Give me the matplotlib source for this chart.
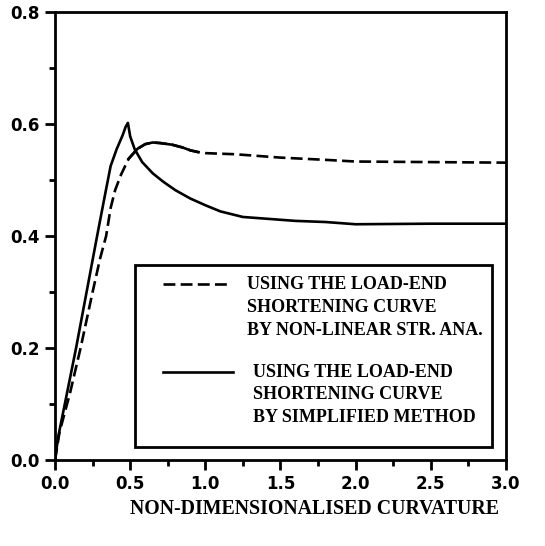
import numpy as np
import matplotlib.pyplot as plt
from matplotlib.patches import Rectangle

# curvature vs. moment
x_simpl = [0.0, 0.02, 0.08, 0.14, 0.21, 0.28, 0.33, 0.37, 0.41, 0.45, 0.47, 0.485,
           0.50, 0.53, 0.58, 0.65, 0.72, 0.80, 0.90, 1.00, 1.10, 1.25, 1.45, 1.60,
           1.80, 1.95, 2.00, 2.50, 3.00]
y_simpl = [0.0, 0.04, 0.12, 0.20, 0.30, 0.40, 0.47, 0.525, 0.555, 0.58, 0.595, 0.602,
           0.578, 0.555, 0.532, 0.512, 0.497, 0.482, 0.467, 0.455, 0.444, 0.434, 0.430, 0.427,
           0.425, 0.422, 0.421, 0.422, 0.422]

x_nonlin = [0.0, 0.03, 0.10, 0.17, 0.25, 0.30, 0.34, 0.37, 0.40, 0.44, 0.49, 0.55,
            0.60, 0.65, 0.70, 0.78, 0.85, 0.90, 0.95, 1.00, 1.20, 1.50, 1.80, 2.00,
            2.50, 3.00]
y_nonlin = [0.0, 0.05, 0.12, 0.20, 0.30, 0.36, 0.40, 0.45, 0.482, 0.51, 0.538, 0.556,
            0.564, 0.567, 0.566, 0.563, 0.558, 0.553, 0.550, 0.548, 0.546, 0.540, 0.536, 0.533,
            0.532, 0.531]

label_nonlin = "USING THE LOAD-END\nSHORTENING CURVE\nBY NON-LINEAR STR. ANA."
label_simpl = "USING THE LOAD-END\nSHORTENING CURVE\nBY SIMPLIFIED METHOD"
xlabel = "NON-DIMENSIONALISED CURVATURE"

serif = ['Liberation Serif', 'DejaVu Serif']
lw = 1.9
dash = (4.5, 2.0)

fig = plt.figure(figsize=(5.45, 5.46), dpi=100)
ax = fig.add_axes([0.101, 0.1575, 0.827, 0.8205])

ax.plot(x_simpl, y_simpl, color='black', lw=lw)
ax.plot(x_nonlin, y_nonlin, color='black', lw=lw, dashes=dash)
# the dashes merge into a continuous stroke around the maximum
xn = np.array(x_nonlin)
yn = np.array(y_nonlin)
seg = (xn >= 0.49) & (xn <= 0.95)
ax.plot(xn[seg], yn[seg], color='black', lw=lw)

ax.set_xlim(0, 3.0)
ax.set_ylim(0, 0.8)
ax.set_xticks(np.arange(0, 3.01, 0.5))
ax.set_xticks(np.arange(0.25, 3.0, 0.5), minor=True)
ax.set_yticks(np.arange(0, 0.81, 0.2))
ax.set_yticks(np.arange(0.1, 0.8, 0.2), minor=True)
ax.set_xticklabels(['%.1f' % v for v in np.arange(0, 3.01, 0.5)])
ax.set_yticklabels(['%.1f' % v for v in np.arange(0, 0.81, 0.2)])
for s in ax.spines.values():
    s.set_linewidth(2.0)
ax.tick_params(which='major', direction='out', length=7, width=2.0,
               labelsize=12, pad=4)
ax.tick_params(which='minor', direction='out', length=4, width=2.0)
for t in ax.get_xticklabels() + ax.get_yticklabels():
    t.set_fontweight('bold')
    t.set_family('DejaVu Sans')

ax.set_xlabel(xlabel, family=serif, fontsize=14.3, fontweight='bold')
ax.xaxis.set_label_coords(0.575, -0.088)

# legend box
ax.add_patch(Rectangle((0.177, 0.029), 0.792, 0.406, transform=ax.transAxes,
                       fill=False, lw=2.0, ec='black', zorder=5))
ax.plot([0.240, 0.382], [0.393, 0.393], transform=ax.transAxes,
        color='black', lw=lw, dashes=dash)
ax.plot([0.240, 0.395], [0.196, 0.196], transform=ax.transAxes,
        color='black', lw=lw)
ax.text(0.425, 0.41, label_nonlin, transform=ax.transAxes, family=serif,
        fontsize=13, fontweight='bold', va='top', ha='left', linespacing=1.43)
ax.text(0.440, 0.215, label_simpl, transform=ax.transAxes, family=serif,
        fontsize=13, fontweight='bold', va='top', ha='left', linespacing=1.43)

fig.savefig('out.png', dpi=100)
